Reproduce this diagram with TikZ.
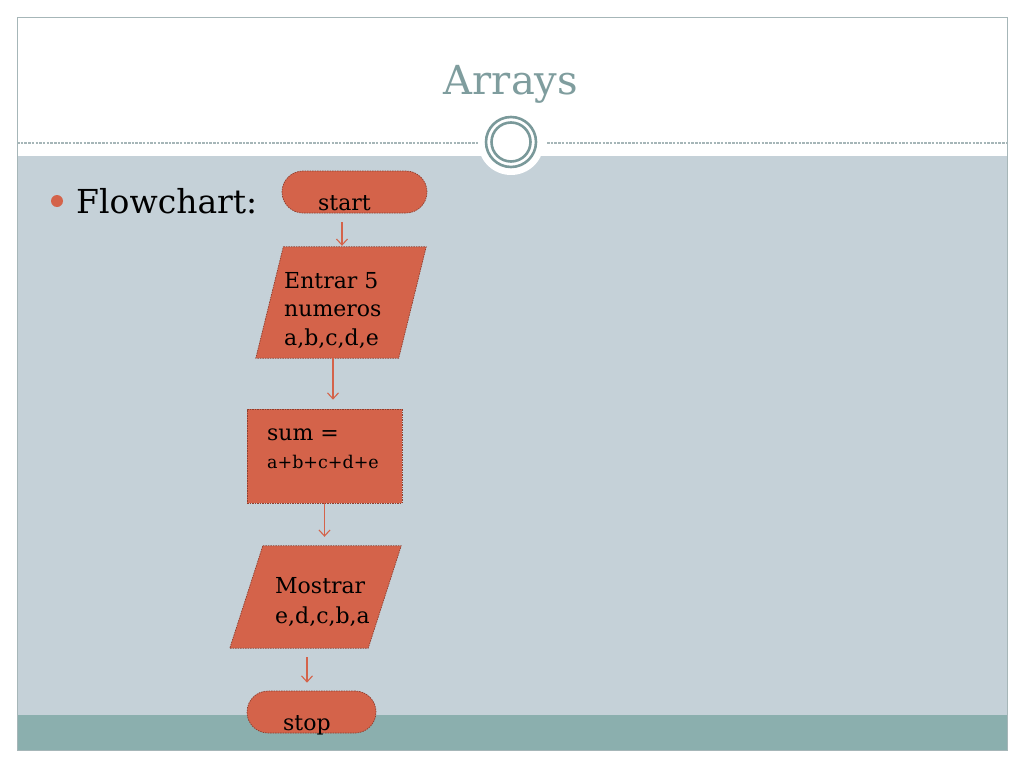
\documentclass[tikz,border=0pt]{standalone}
\usepackage{fontspec}
\setmainfont{DejaVu Serif}
\usetikzlibrary{positioning,calc,arrows.meta}
\definecolor{panelgray}{HTML}{C5D1D8}
\definecolor{bandteal}{HTML}{8BAFAE}
\definecolor{framegray}{HTML}{A6B6B8}
\definecolor{titlegray}{HTML}{7F9D9E}
\definecolor{ringgray}{HTML}{7A999A}
\definecolor{boxfill}{HTML}{D4634A}
\definecolor{boxline}{HTML}{8E3E2E}
\tikzset{
	box/.style={draw=boxline, fill=boxfill, line width=0.7pt, dash pattern=on 1.5pt off 1pt, inner sep=0pt},
	terminal/.style={box, rectangle, rounded corners=21pt, minimum height=42pt},
	iobody/.style={rectangle, inner sep=0pt},
	process/.style={box, rectangle},
	flowtext/.style={anchor=base west, inner sep=0pt, align=left, font=\fontsize{22}{28.5}\selectfont},
}
\newcommand{\flowlink}[4][]
{
	% short arrow under #2 towards the top of #3, moved sideways by #4
	\path [draw=boxfill, line width=1.1pt, -{Straight Barb[length=6pt,width=11pt]}, #1] ([xshift=#4]#2.center |- #2.south) -- ([xshift=#4]#2.center |- #3.north);
}
\newcommand{\ioshape}[2]
{
	% parallelogram inside the frame of node #1, slanted by #2
	\path [box] ([xshift=#2]#1.north west) -- (#1.north east) -- ([xshift=-#2]#1.south east) -- (#1.south west) -- cycle;
}

\begin{document}
\begin{tikzpicture}[x=1pt, y=-1pt]
	\useasboundingbox (0,0) rectangle (1024,768);
	\fill [white] (0,0) rectangle (1024,768);
	% slide background
	\fill [panelgray] (17,156) rectangle (1007,715);
	\fill [bandteal] (17,715) rectangle (1007,750);
	\draw [framegray, line width=0.8pt] (17,17) rectangle (1007,750);
	\draw [framegray, line width=1.2pt, dash pattern=on 2.5pt off 1.2pt] (17,143) -- (480,143);
	\draw [framegray, line width=1.2pt, dash pattern=on 2.5pt off 1.2pt] (547,143) -- (1007,143);
	\fill [white] (511,142) circle (33);
	\draw [ringgray, line width=2.6pt] (511,142) circle (25);
	\draw [ringgray, line width=2.6pt] (511,142) circle (19.5);
	\node [anchor=base, inner sep=0pt, text=titlegray, font=\fontsize{40}{48}\selectfont] (title) at (511,94) {Arrays};
	\fill [boxfill] (57,201) circle (6);
	\node [anchor=base west, inner sep=0pt, font=\fontsize{33}{40}\selectfont] (bullet) at (76,213) {Flowchart:};
	% flowchart shapes
	\node [terminal, minimum width=145pt] (start) at (354.5,192) {};
	\node [iobody, minimum width=170pt, minimum height=111pt] (entrar) at (341,302.5) {};
	\ioshape{entrar}{27.5}
	\node [process, minimum width=155pt, minimum height=94pt] (sum) at (324.5,456) {};
	\node [iobody, minimum width=171pt, minimum height=102pt] (mostrar) at (315.5,597) {};
	\ioshape{mostrar}{33}
	\node [terminal, minimum width=129pt] (stop) at (311.5,712) {};
	% texts
	\node [flowtext] (starttext) at (318,210) {start};
	\node [flowtext] (entrartext) at (284,345) {Entrar 5\\numeros\\a,b,c,d,e};
	\node [flowtext] (sumtext) at (267,440) {sum =};
	\node [flowtext, font=\fontsize{17.5}{20}\selectfont] (sumterms) at (267,468) {a+b+c+d+e};
	\node [flowtext, font=\fontsize{22}{30}\selectfont] (mostrartext) at (275,623) {Mostrar\\e,d,c,b,a};
	\node [flowtext] (stoptext) at (283,730) {stop};
	% arrows
	\flowlink[shorten <=9pt, shorten >=1pt]{start}{entrar}{-12.5}
	\flowlink[shorten >=9pt]{entrar}{sum}{-8}
	\flowlink[shorten >=9pt]{sum}{mostrar}{0}
	\flowlink[shorten <=9pt, shorten >=8pt]{mostrar}{stop}{-8.5}
\end{tikzpicture}
\end{document}
